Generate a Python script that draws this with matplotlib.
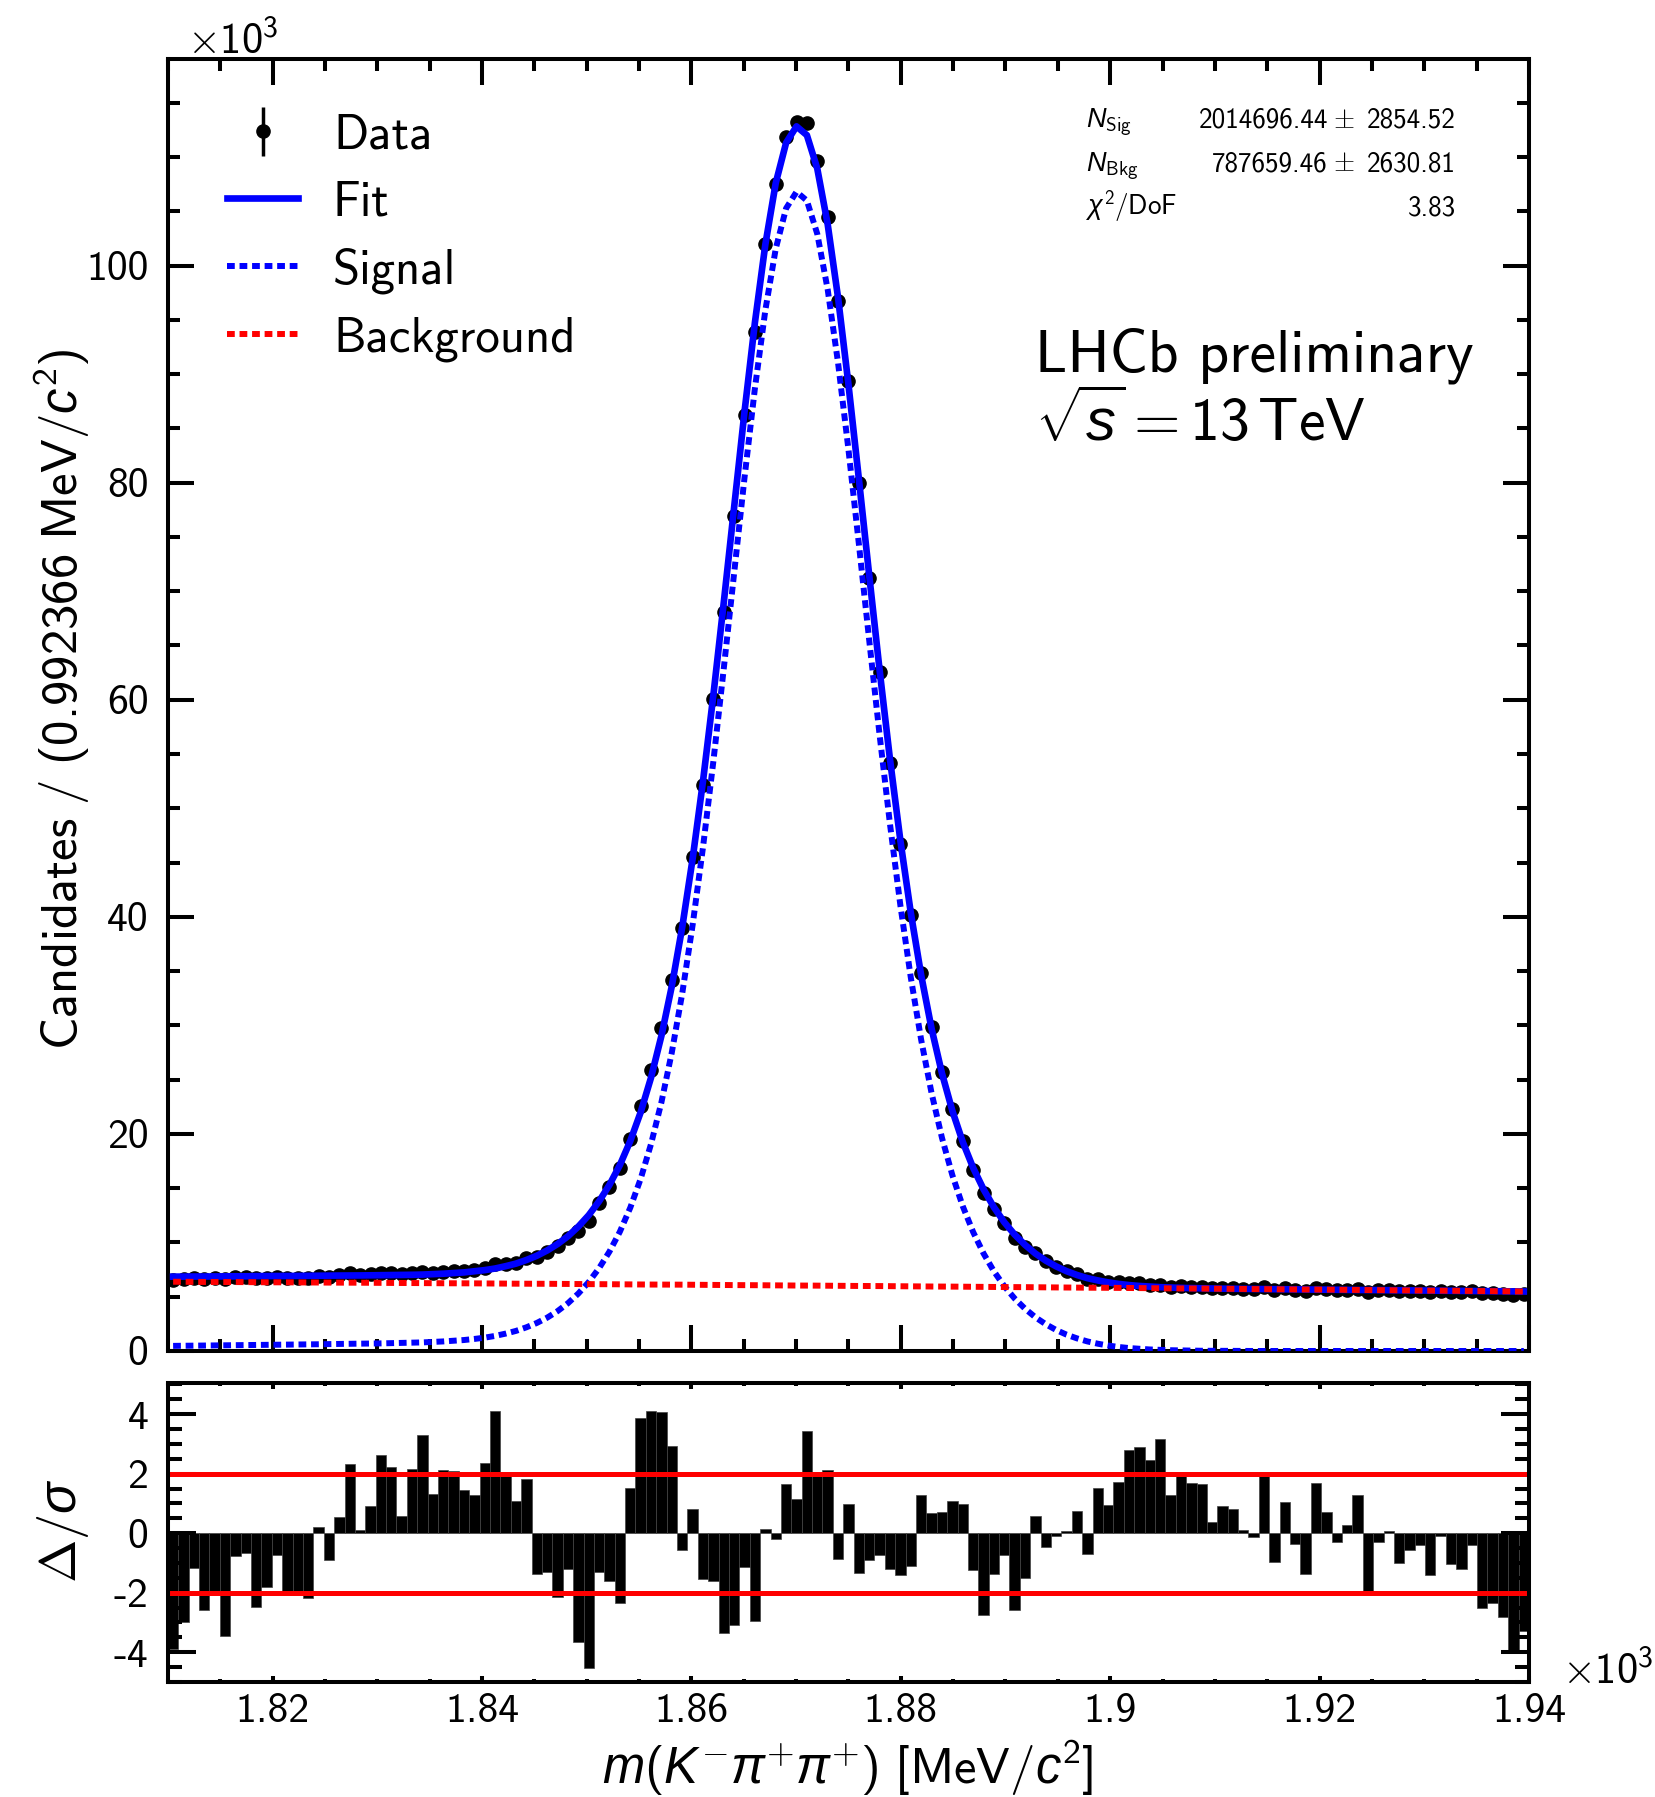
import numpy as np
import matplotlib
matplotlib.use("Agg")
import matplotlib.pyplot as plt

plt.rcParams.update({
    "font.family": "cmss10",
    "mathtext.fontset": "custom",
    "mathtext.rm": "cmss10",
    "mathtext.sf": "cmss10",
    "mathtext.it": "Liberation Sans:italic",
    "mathtext.fallback": "cm",
    "axes.unicode_minus": False,
    "axes.formatter.use_mathtext": True,
})

# Binning of the K- pi+ pi+ invariant-mass histogram (MeV/c^2)
BIN_WIDTH = 0.992366
M_LO, M_HI = 1810.0, 1940.0

# Candidates per bin, in thousands
data_k = [6.52, 6.60, 6.76, 6.65, 6.71, 6.59, 6.82, 6.83, 6.69, 6.75,
          6.85, 6.75, 6.76, 6.74, 6.95, 6.86, 6.99, 7.15, 6.97, 7.05,
          7.20, 7.18, 7.05, 7.21, 7.32, 7.19, 7.30, 7.35, 7.37, 7.44,
          7.66, 7.97, 7.98, 8.15, 8.54, 8.64, 9.13, 9.64, 10.45, 11.06,
          12.01, 13.63, 15.10, 16.83, 19.55, 22.57, 25.85, 29.73, 34.16, 38.93,
          45.50, 52.14, 60.03, 68.08, 76.94, 86.23, 93.86, 101.98, 107.53, 111.86,
          113.21, 113.15, 109.59, 104.50, 96.77, 89.35, 79.99, 71.20, 62.53, 54.21,
          46.70, 40.14, 34.84, 29.82, 25.69, 22.29, 19.39, 16.71, 14.56, 13.09,
          11.79, 10.45, 9.61, 9.03, 8.28, 7.77, 7.35, 7.06, 6.66, 6.62,
          6.39, 6.32, 6.29, 6.22, 6.12, 6.12, 5.94, 5.96, 5.92, 5.90,
          5.79, 5.81, 5.79, 5.73, 5.70, 5.85, 5.62, 5.76, 5.65, 5.56,
          5.79, 5.70, 5.62, 5.65, 5.72, 5.47, 5.59, 5.60, 5.51, 5.54,
          5.54, 5.46, 5.55, 5.47, 5.45, 5.50, 5.33, 5.34, 5.29, 5.20,
          5.24]

# Signal component of the fit at each bin centre, in thousands
signal_k = [0.47, 0.48, 0.49, 0.50, 0.51, 0.52, 0.53, 0.54, 0.56, 0.57,
            0.58, 0.59, 0.60, 0.61, 0.62, 0.64, 0.65, 0.66, 0.67, 0.69,
            0.70, 0.72, 0.74, 0.76, 0.79, 0.83, 0.88, 0.94, 1.01, 1.11,
            1.23, 1.39, 1.60, 1.85, 2.18, 2.58, 3.07, 3.67, 4.40, 5.29,
            6.35, 7.63, 9.16, 10.99, 13.20, 15.86, 19.07, 22.92, 27.51, 32.93,
            39.23, 46.40, 54.34, 62.88, 71.73, 80.49, 88.71, 95.88, 101.54, 105.27,
            106.79, 105.98, 102.91, 97.80, 91.03, 83.05, 74.37, 65.46, 56.73, 48.52,
            41.04, 34.41, 28.66, 23.76, 19.64, 16.20, 13.34, 10.96, 8.99, 7.34,
            5.97, 4.83, 3.89, 3.10, 2.46, 1.93, 1.50, 1.16, 0.88, 0.67,
            0.50, 0.37, 0.27, 0.20, 0.14, 0.10, 0.07, 0.05, 0.03, 0.02,
            0.02, 0.01, 0.01, 0.00, 0.00, 0.00, 0.00, 0.00, 0.00, 0.00,
            0.00, 0.00, 0.00, 0.00, 0.00, 0.00, 0.00, 0.00, 0.00, 0.00,
            0.00, 0.00, 0.00, 0.00, 0.00, 0.00, 0.00, 0.00, 0.00, 0.00,
            0.00]

# Combinatorial background component at each bin centre, in thousands
background_k = [6.38, 6.37, 6.37, 6.36, 6.36, 6.35, 6.35, 6.34, 6.34, 6.33,
                6.33, 6.32, 6.32, 6.31, 6.31, 6.30, 6.30, 6.29, 6.29, 6.28,
                6.28, 6.27, 6.27, 6.26, 6.25, 6.25, 6.24, 6.24, 6.23, 6.23,
                6.22, 6.21, 6.21, 6.20, 6.20, 6.19, 6.19, 6.18, 6.17, 6.17,
                6.16, 6.16, 6.15, 6.14, 6.14, 6.13, 6.12, 6.12, 6.11, 6.11,
                6.10, 6.09, 6.09, 6.08, 6.07, 6.07, 6.06, 6.05, 6.05, 6.04,
                6.03, 6.03, 6.02, 6.01, 6.01, 6.00, 5.99, 5.99, 5.98, 5.97,
                5.97, 5.96, 5.95, 5.94, 5.94, 5.93, 5.92, 5.92, 5.91, 5.90,
                5.89, 5.89, 5.88, 5.87, 5.86, 5.86, 5.85, 5.84, 5.83, 5.83,
                5.82, 5.81, 5.80, 5.79, 5.79, 5.78, 5.77, 5.76, 5.76, 5.75,
                5.74, 5.73, 5.72, 5.72, 5.71, 5.70, 5.69, 5.68, 5.67, 5.67,
                5.66, 5.65, 5.64, 5.63, 5.62, 5.62, 5.61, 5.60, 5.59, 5.58,
                5.57, 5.56, 5.56, 5.55, 5.54, 5.53, 5.52, 5.51, 5.50, 5.49,
                5.48]

# Normalised residuals (data - fit) / sigma per bin
pull = [-3.9, -3.0, -1.17, -2.58, -1.97, -3.44, -0.78, -0.65, -2.48, -1.81,
        -0.73, -1.93, -1.93, -2.19, 0.22, -0.9, 0.56, 2.34, 0.1, 0.9,
        2.63, 2.22, 0.58, 2.16, 3.29, 1.33, 2.11, 2.1, 1.46, 1.27,
        2.36, 4.12, 1.93, 1.07, 1.82, -1.37, -1.29, -2.16, -1.21, -3.65,
        -4.52, -1.29, -1.62, -2.34, 1.53, 3.87, 4.12, 4.09, 2.93, -0.56,
        0.81, -1.53, -1.62, -3.37, -3.08, -1.12, -2.94, 0.13, -0.18, 1.65,
        1.15, 3.43, 2.0, 2.12, -0.85, 0.98, -1.33, -0.9, -0.73, -1.2,
        -1.40, -1.10, 1.27, 0.67, 0.72, 1.08, 0.97, -1.25, -2.74, -1.38,
        -0.72, -2.58, -1.52, 0.57, -0.47, -0.11, 0.06, 0.75, -0.71, 1.52,
        0.96, 1.71, 2.8, 2.91, 2.47, 3.17, 1.30, 1.93, 1.69, 1.66,
        0.39, 0.93, 0.83, 0.11, -0.13, 1.93, -0.98, 1.04, -0.35, -1.37,
        1.69, 0.70, -0.30, 0.27, 1.29, -1.93, -0.29, 0.06, -1.01, -0.55,
        -0.40, -1.42, -0.11, -1.02, -1.20, -0.39, -2.52, -2.33, -2.80, -3.92,
        -3.28]

x_tick_values = [1820, 1840, 1860, 1880, 1900, 1920, 1940]
x_tick_labels = ["1.82", "1.84", "1.86", "1.88", "1.9", "1.92", "1.94"]
y_tick_values = [0, 20, 40, 60, 80, 100]
y_tick_labels = ["0", "20", "40", "60", "80", "100"]
pull_tick_values = [-4, -2, 0, 2, 4]
pull_tick_labels = ["-4", "-2", "0", "2", "4"]

stat_names = [r"$N_{\mathrm{Sig}}$", r"$N_{\mathrm{Bkg}}$", r"$\chi^{2}/\mathrm{DoF}$"]
stat_values = ["2014696.44", "787659.46", "3.83"]
stat_errors = ["2854.52", "2630.81", None]

data = np.array(data_k)
signal = np.array(signal_k)
background = np.array(background_k)
total = signal + background
pulls = np.array(pull)
centers = M_LO + BIN_WIDTH * (np.arange(len(data)) + 0.5)
data_err = np.sqrt(data * 1000) / 1000

fig = plt.figure(figsize=(16.56, 17.97), dpi=100)
ax = fig.add_axes([0.1014, 0.2482, 0.8219, 0.7188])
axp = fig.add_axes([0.1014, 0.064, 0.8219, 0.1664])

DOTS = (0, (1.3, 0.8))
eb = ax.errorbar(centers, data, yerr=data_err, fmt='o', color='k',
                 ms=9.5, elinewidth=2.5, capsize=0, zorder=3)
l_fit, = ax.plot(centers, total, color='#0000ff', lw=4.8, zorder=4)
l_sig, = ax.plot(centers, signal, color='#0000ff', lw=4.3, ls=DOTS, zorder=5)
l_bkg, = ax.plot(centers, background, color='#ff0000', lw=4.3, ls=DOTS, zorder=5)

ax.set_xlim(M_LO, M_HI)
ax.set_ylim(0, 119)
ax.set_xticks(x_tick_values)
ax.set_xticks(np.arange(1810, 1941, 5), minor=True)
ax.set_xticklabels([])
ax.set_yticks(y_tick_values)
ax.set_yticklabels(y_tick_labels)
ax.set_yticks(np.arange(0, 119, 5), minor=True)
ax.tick_params(which='both', direction='in', top=True, right=True, width=2.9,
               labelsize=30, pad=14)
ax.tick_params(which='major', length=18.7)
ax.tick_params(which='minor', length=8.6)
for s in ax.spines.values():
    s.set_linewidth(2.9)

ax.legend([eb, l_fit, l_sig, l_bkg], ["Data", "Fit", "Signal", "Background"],
          loc='upper left', bbox_to_anchor=(0.0437, 0.958), frameon=False,
          fontsize=35.2, handlelength=1.44, handletextpad=0.72,
          labelspacing=0.45, borderpad=0, borderaxespad=0)

# Pull distribution
axp.bar(centers, pulls, width=BIN_WIDTH, color='k', edgecolor='#444444', linewidth=0.5)
axp.axhline(2, color='#ff0000', lw=3.6)
axp.axhline(-2, color='#ff0000', lw=3.6)
axp.set_xlim(M_LO, M_HI)
axp.set_ylim(-5.0, 5.05)
axp.set_yticks(pull_tick_values)
axp.set_yticklabels(pull_tick_labels)
axp.set_yticks(np.arange(-5, 5.01, 0.5), minor=True)
axp.set_xticks(x_tick_values)
axp.set_xticklabels(x_tick_labels)
axp.set_xticks(np.arange(1810, 1941, 5), minor=True)
axp.tick_params(which='both', direction='in', top=True, right=True, width=2.9,
                labelsize=30)
axp.tick_params(axis='y', which='major', length=20, pad=14)
axp.tick_params(axis='y', which='minor', length=10)
axp.tick_params(axis='x', which='major', length=4.3, pad=8)
axp.tick_params(axis='x', which='minor', length=2.2)
for s in axp.spines.values():
    s.set_linewidth(2.9)

W, H = 1656.0, 1797.0
def fx(px):
    return px / W
def fy(py):
    return 1 - py / H

fig.text(fx(62), fy(699), r"$\mathrm{Candidates\ /\ (0.992366\ MeV}/c^{2})$",
         rotation=90, ha='center', va='center', fontsize=36.5)
fig.text(fx(63), fy(1531), r"$\Delta/\sigma$", rotation=90, ha='center', va='center',
         fontsize=37.5)
fig.text(fx(848), fy(1768), r"$m(K^{-}\pi^{+}\pi^{+})\ \mathrm{[MeV}/c^{2}]$",
         ha='center', va='center', fontsize=36.5)
fig.text(fx(187), fy(54), r"$\times10^{3}$", fontsize=30.5, va='baseline')
fig.text(fx(1562), fy(1684), r"$\times10^{3}$", fontsize=30.5, va='baseline')

fig.text(fx(1035), fy(372), "LHCb preliminary", fontsize=43.0, va='baseline')
fig.text(fx(1035), fy(441), r"$\sqrt{s}=13\,\mathrm{TeV}$", fontsize=43.0, va='baseline')

for i, (nm, val, err) in enumerate(zip(stat_names, stat_values, stat_errors)):
    yb = 128 + 43.5 * i
    fig.text(fx(1086), fy(yb), nm, fontsize=19.5, va='baseline')
    if err is None:
        fig.text(fx(1456), fy(yb), val, fontsize=19.5, va='baseline', ha='right')
    else:
        fig.text(fx(1328), fy(yb), val, fontsize=19.5, va='baseline', ha='right')
        fig.text(fx(1344), fy(yb), r"$\pm$", fontsize=19.5, va='baseline', ha='center',
                 math_fontfamily='cm')
        fig.text(fx(1456), fy(yb), err, fontsize=19.5, va='baseline', ha='right')

fig.savefig("out.png", dpi=100)
